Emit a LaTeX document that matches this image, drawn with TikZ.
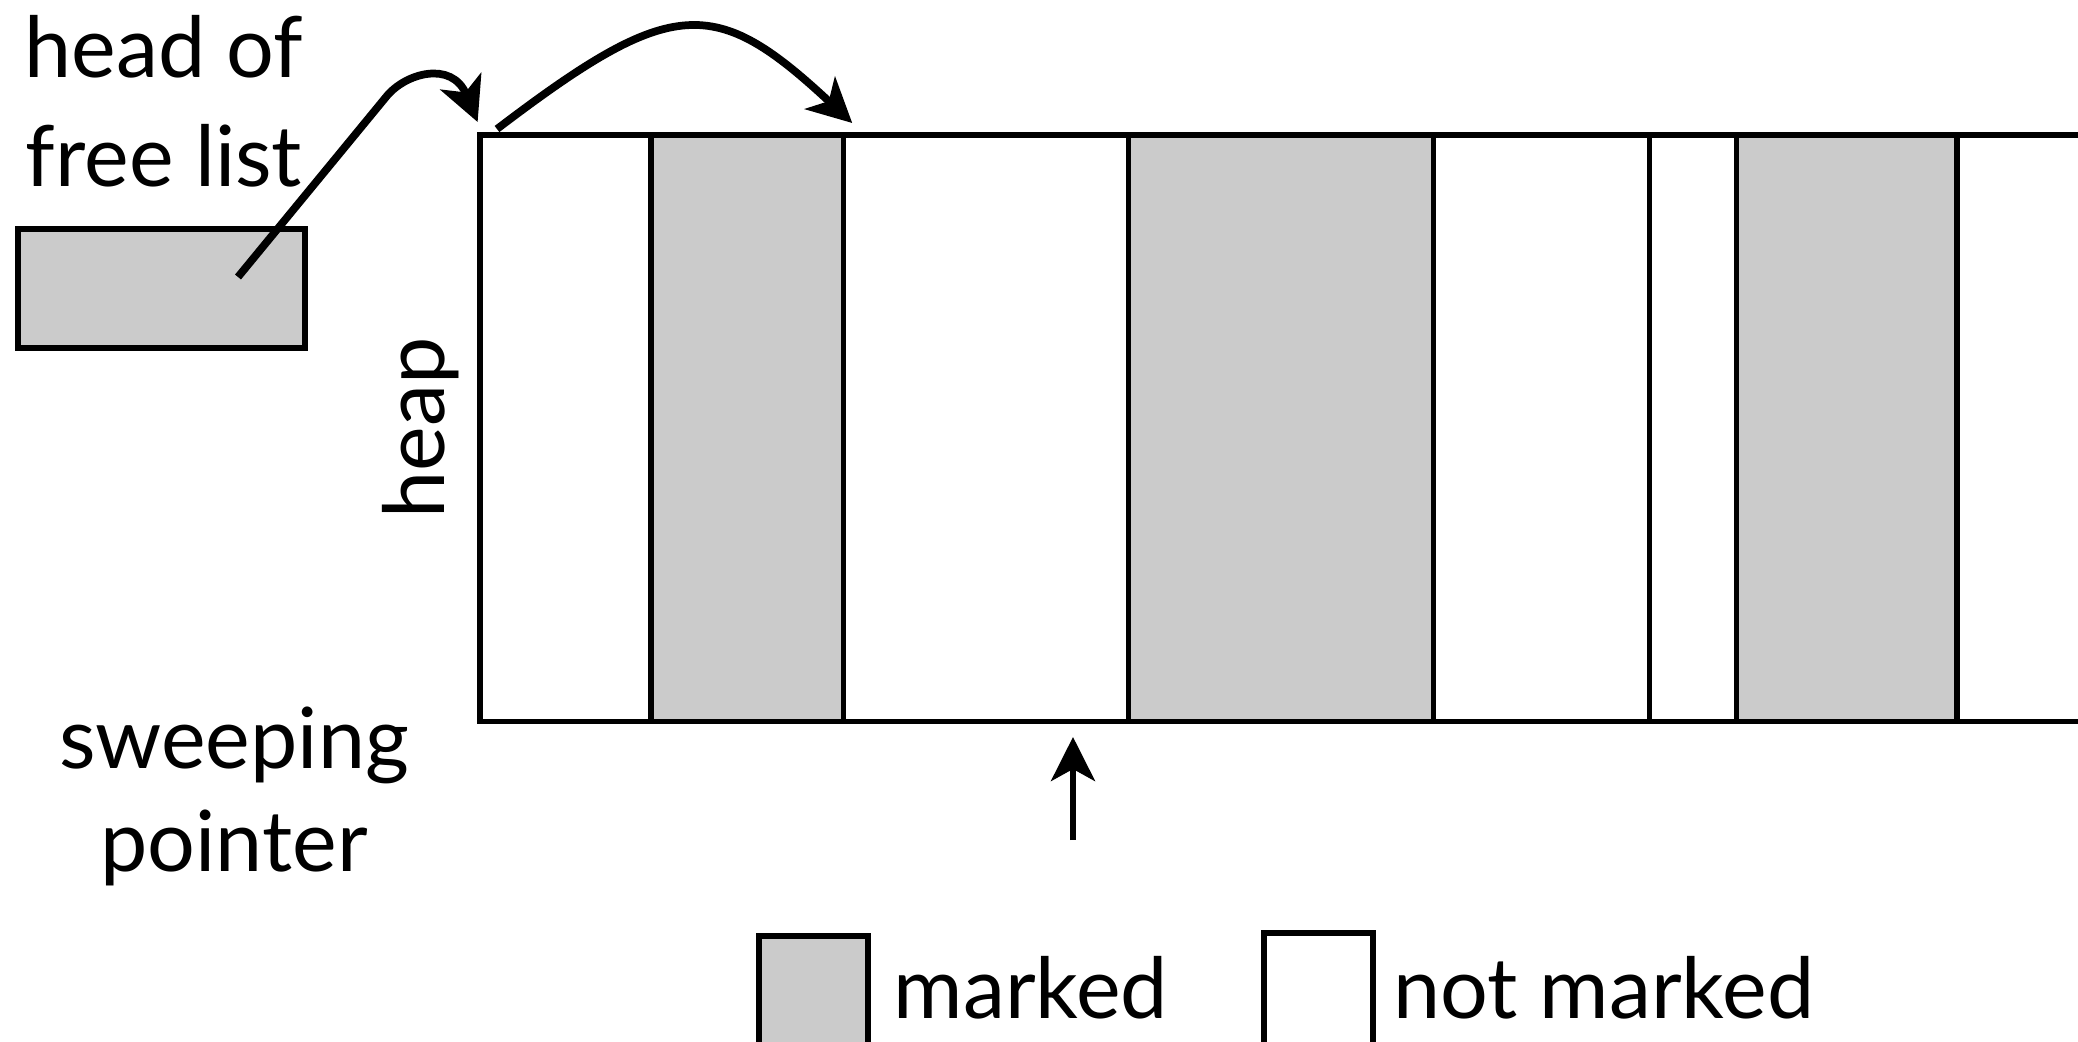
\documentclass[tikz,border=0pt]{standalone}
\usepackage{fontspec}
\setmainfont{Lato}
\usetikzlibrary{positioning}
\usetikzlibrary{arrows.meta}

\definecolor{markgray}{RGB}{203,203,203}
\tikzset{
  cell/.style={draw, line width=1.5pt, inner sep=0pt, outer sep=0pt, minimum height=5.86cm},
  marked/.style={cell, fill=markgray},
  lbl/.style={inner sep=0pt, font=\fontsize{24}{31}\selectfont},
  ptrarrow/.style={line width=2.2pt, -{Stealth[length=0.44cm, width=0.44cm, inset=0.12cm]}},
}

\begin{document}
\begin{tikzpicture}[x=0.01cm, y=-0.01cm]
				\clip (0,0) rectangle (2078,1041);

				% heap
				\node[cell, minimum width=1.71cm, anchor=north west](c1) at (480,135) {};
				\node[marked, minimum width=1.92cm, right=0pt of c1](c2) {};
				\node[cell, minimum width=2.85cm, right=0pt of c2](c3) {};
				\node[marked, minimum width=3.05cm, right=0pt of c3](c4) {};
				\node[cell, minimum width=2.16cm, right=0pt of c4](c5) {};
				\node[cell, minimum width=0.87cm, right=0pt of c5](c6) {};
				\node[marked, minimum width=2.20cm, right=0pt of c6](c7) {};
				\node[cell, minimum width=1.60cm, right=0pt of c7](c8) {};
				\node[lbl, rotate=90, anchor=base](heaplbl) at (444,428) {heap};

				% free list
				\node[lbl, align=center](headlbl) at (164,101) {head of\\free list};
				\node[marked, line width=1.7pt, minimum width=2.87cm, minimum height=1.19cm, anchor=north west](headbox) at (18,229) {};
				\coordinate (headptr) at (238,277);

				\draw[ptrarrow, shorten >=4pt] (headptr) -- (386,97) .. controls (405,73) and (452,60) .. ([xshift=0.03cm]c1.north west);
				\draw[ptrarrow] ([xshift=0.17cm,yshift=0.06cm]c1.north west) .. controls (673,-5) and (715,-5) .. ([xshift=0.09cm,yshift=0.12cm]c3.north west);

				% sweeping pointer
				\node[lbl, align=center, font=\fontsize{24}{29.3}\selectfont](sweeplbl) at (234,796) {sweeping\\pointer};
				\coordinate (sweeptail) at (1073,840);
				\coordinate (sweeptip) at (1073,737);
				\draw[ptrarrow, line width=1.6pt] (sweeptail) -- (sweeptip);

				% key
				\node[marked, minimum width=1.09cm, minimum height=1.3cm, anchor=north west](keymark) at (759,936) {};
				\node[lbl, anchor=base west](keymarklbl) at (893,1018) {marked};
				\node[cell, minimum width=1.09cm, minimum height=1.3cm, anchor=north west](keyfree) at (1264,933) {};
				\node[lbl, anchor=base west](keyfreelbl) at (1393,1018) {not marked};
\end{tikzpicture}
\end{document}
